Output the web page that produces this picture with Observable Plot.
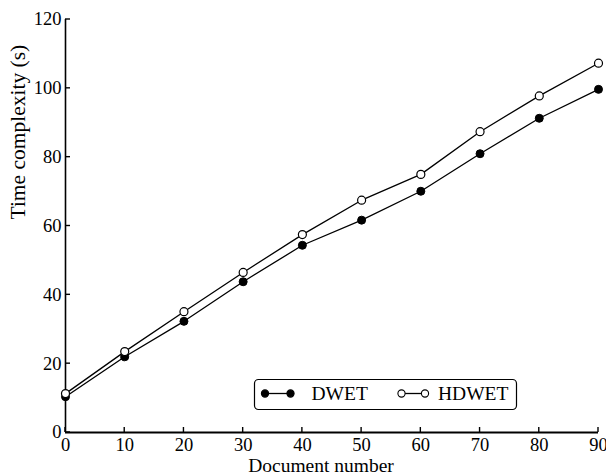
<!DOCTYPE html>
<html>
<head>
<meta charset="utf-8">
<script src="https://cdn.jsdelivr.net/npm/d3@7"></script>
<script src="https://cdn.jsdelivr.net/npm/@observablehq/plot@0.6"></script>
<style>
  html, body { margin: 0; padding: 0; background: #fff; }
  #chart { width: 606px; height: 475px; }
  svg { font-family: "Liberation Serif", "DejaVu Serif", serif; }
</style>
</head>
<body>
<div id="chart"></div>
<script>
const docs = [0, 10, 20, 30, 40, 50, 60, 70, 80, 90];
const dwet = [10.4, 22.0, 32.3, 43.8, 54.4, 61.7, 70.1, 81.0, 91.3, 99.7];
const hdwet = [11.3, 23.5, 35.1, 46.5, 57.5, 67.5, 75.0, 87.4, 97.8, 107.3];
const xTicks = [0, 10, 20, 30, 40, 50, 60, 70, 80, 90];
const yTicks = [0, 20, 40, 60, 80, 100, 120];
const seriesNames = ["DWET", "HDWET"];
const xLabel = "Document number";
const yLabel = "Time complexity (s)";

const rowsD = docs.map((d, i) => ({x: d, y: dwet[i]}));
const rowsH = docs.map((d, i) => ({x: d, y: hdwet[i]}));

const plot = Plot.plot({
  width: 606,
  height: 475,
  marginLeft: 65,
  marginRight: 8,
  marginTop: 19,
  marginBottom: 43,
  style: {fontFamily: "Liberation Serif, serif", background: "#fff", overflow: "visible"},
  x: {domain: [0, 90]},
  y: {domain: [0, 120]},
  marks: [
    Plot.axisX(xTicks, {tickSize: 0, tickPadding: 5, fontSize: 18.5, fill: "#000", label: null}),
    Plot.axisY(yTicks, {tickSize: 0, tickPadding: 4, fontSize: 18.5, fill: "#000", label: null}),
    Plot.ruleY([0], {stroke: "#000", strokeWidth: 1.8}),
    Plot.ruleX([0], {stroke: "#000", strokeWidth: 1.6}),
    Plot.line(rowsD, {x: "x", y: "y", stroke: "#000", strokeWidth: 1.3}),
    Plot.line(rowsH, {x: "x", y: "y", stroke: "#000", strokeWidth: 1.3}),
    Plot.dot(rowsD, {x: "x", y: "y", r: 4, fill: "#000", stroke: "#000", strokeWidth: 1}),
    Plot.dot(rowsH, {x: "x", y: "y", r: 4, fill: "#fff", stroke: "#000", strokeWidth: 1.2}),
    Plot.text([xLabel], {frameAnchor: "bottom", text: d => d, dy: 33.5, dx: -11, lineAnchor: "middle", fontSize: 19.5, fill: "#000"}),
    Plot.text([yLabel], {frameAnchor: "left", text: d => d, rotate: -90, dx: -47, dy: -6.5, lineAnchor: "middle", fontSize: 21.5, fill: "#000"})
  ]
});

document.getElementById("chart").appendChild(plot);

const svg = d3.select(plot);
const xs = plot.scale("x"), ys = plot.scale("y");
const x0 = xs.apply(0), y0 = ys.apply(0);

// inward tick marks, positioned via Plot's own scales
const tg = svg.append("g").attr("class", "inward-ticks").attr("stroke", "#000").attr("stroke-width", 1.4);
for (const t of xTicks) {
  const px = xs.apply(t);
  tg.append("line").attr("x1", px).attr("x2", px).attr("y1", y0).attr("y2", y0 - 5);
}
for (const t of yTicks) {
  const py = ys.apply(t);
  tg.append("line").attr("x1", x0).attr("x2", x0 + 5).attr("y1", py).attr("y2", py);
}

// Legend (inside plot area)
const lg = svg.append("g").attr("class", "legend");
lg.append("rect").attr("x", 254.5).attr("y", 379.5).attr("width", 262).attr("height", 30)
  .attr("rx", 4).attr("fill", "#fff").attr("stroke", "#000").attr("stroke-width", 1.2);
const items = [
  {name: seriesNames[0], x1: 265, x2: 290.5, tx: 311.5, fill: "#000"},
  {name: seriesNames[1], x1: 401.5, x2: 425, tx: 438, fill: "#fff"}
];
const cy = 393.5;
for (const it of items) {
  lg.append("line").attr("x1", it.x1).attr("x2", it.x2).attr("y1", cy).attr("y2", cy)
    .attr("stroke", "#000").attr("stroke-width", 1.3);
  for (const cx of [it.x1, it.x2]) {
    lg.append("circle").attr("cx", cx).attr("cy", cy).attr("r", 3.6)
      .attr("fill", it.fill).attr("stroke", "#000").attr("stroke-width", 1.1);
  }
  lg.append("text").attr("x", it.tx).attr("y", cy).attr("dy", "0.34em")
    .attr("text-anchor", "start")
    .attr("font-family", "Liberation Serif, serif")
    .attr("font-size", 19.5).attr("fill", "#000").text(it.name);
}
</script>
</body>
</html>
